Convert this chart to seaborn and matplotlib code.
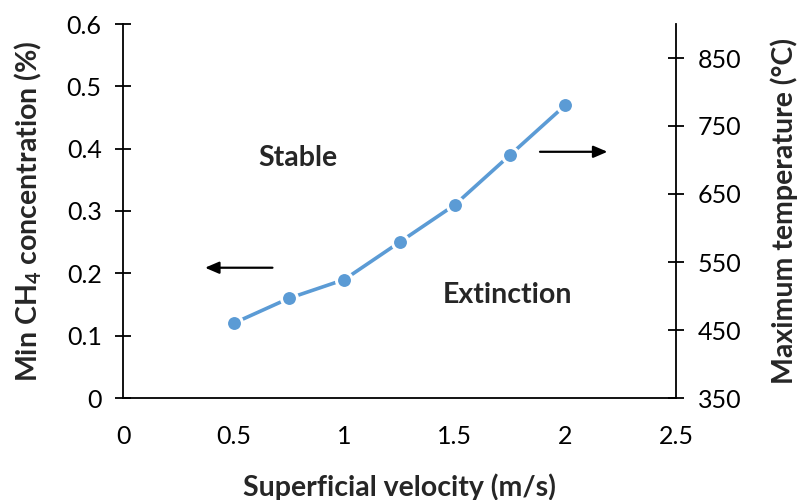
import matplotlib
matplotlib.use("Agg")
import matplotlib.pyplot as plt
import seaborn as sns
import pandas as pd

velocity = [0.5, 0.75, 1.0, 1.25, 1.5, 1.75, 2.0]
min_ch4 = [0.12, 0.16, 0.19, 0.25, 0.31, 0.39, 0.47]
x_ticks = [0, 0.5, 1, 1.5, 2, 2.5]
left_ticks = [0, 0.1, 0.2, 0.3, 0.4, 0.5, 0.6]
right_ticks = [350, 450, 550, 650, 750, 850]

sns.set_theme(style="white")
plt.rcParams["font.family"] = ["Lato", "DejaVu Sans"]
plt.rcParams["mathtext.fontset"] = "custom"
plt.rcParams["mathtext.rm"] = "Lato"
plt.rcParams["mathtext.bf"] = "Lato:bold"

TICK_FS = 18
LABEL_FS = 20.5

df = pd.DataFrame({"velocity": velocity, "ch4": min_ch4})

fig = plt.figure(figsize=(8, 5), dpi=100)
ax = fig.add_axes([0.154, 0.204, 0.691, 0.748])

sns.lineplot(data=df, x="velocity", y="ch4", ax=ax, color="#5B9BD5",
             linewidth=2.6, marker="o", markersize=11.5,
             markerfacecolor="#5B9BD5", markeredgecolor="white",
             markeredgewidth=2.2, zorder=3)

ax.set_xlim(0, 2.5)
ax.set_ylim(0, 0.6)
ax.set_xticks(x_ticks)
ax.set_xticklabels([f"{t:g}" for t in x_ticks])
ax.set_yticks(left_ticks)
ax.set_yticklabels([f"{t:g}" for t in left_ticks])

for side in ["left", "bottom", "right"]:
    ax.spines[side].set_color("black")
    ax.spines[side].set_linewidth(1.3)
ax.spines["top"].set_visible(False)
ax.spines["right"].set_visible(False)

ax.tick_params(axis="both", direction="inout", length=11, width=1.3,
               colors="black", labelsize=TICK_FS)
ax.tick_params(axis="y", pad=10)
ax.tick_params(axis="x", pad=14)

ax.set_xlabel("Superficial velocity (m/s)", fontsize=LABEL_FS,
              fontweight="bold", labelpad=18)
ax.set_ylabel(r"Min CH$_\mathbf{4}$ concentration (%)", fontsize=LABEL_FS,
              fontweight="bold", labelpad=16)

ax2 = ax.twinx()
ax2.set_ylim(350, 900)
ax2.set_yticks(right_ticks)
ax2.set_yticklabels([str(t) for t in right_ticks])
for side in ["top", "left", "bottom"]:
    ax2.spines[side].set_visible(False)
ax2.spines["right"].set_color("black")
ax2.spines["right"].set_linewidth(1.3)
ax2.tick_params(axis="y", direction="inout", length=11, width=1.3,
                colors="black", labelsize=TICK_FS, pad=10)
ax2.set_ylabel("Maximum temperature (°C)", fontsize=LABEL_FS,
               fontweight="bold", labelpad=21)

ax.text(0.79, 0.385, "Stable", fontsize=LABEL_FS, fontweight="bold",
        ha="center", va="center")
ax.text(1.74, 0.165, "Extinction", fontsize=LABEL_FS, fontweight="bold",
        ha="center", va="center")

arrow_style = dict(arrowstyle="-|>,head_length=0.7,head_width=0.3",
                   color="black", lw=1.6, shrinkA=0, shrinkB=0)
ax.annotate("", xy=(0.37, 0.209), xytext=(0.675, 0.209),
            arrowprops=arrow_style)
ax.annotate("", xy=(2.19, 0.395), xytext=(1.885, 0.395),
            arrowprops=arrow_style)

fig.savefig("out.png", dpi=100, facecolor="white")
